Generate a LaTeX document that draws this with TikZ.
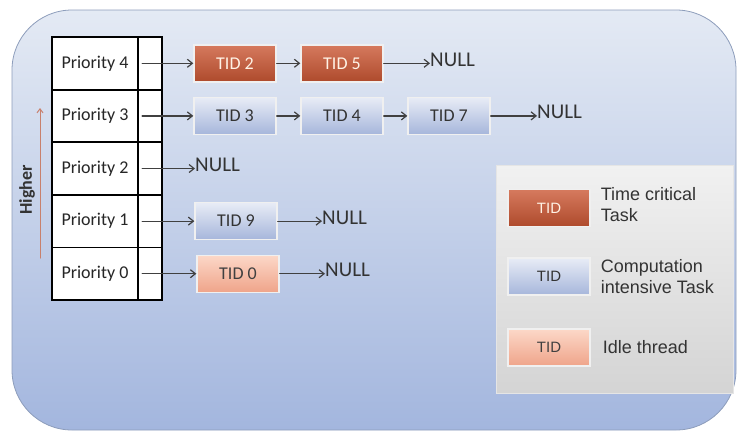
\documentclass[tikz,border=0pt]{standalone}
\usepackage{fontspec}
\setmainfont{Carlito}
\newfontfamily\arialfont{Liberation Sans}
\usetikzlibrary{positioning,arrows.meta}

\definecolor{bgTop}{HTML}{E4EAF4}
\definecolor{bgBot}{HTML}{A3B6DE}
\definecolor{bgLine}{HTML}{8D9DBB}
\definecolor{critTop}{HTML}{D67A5E}
\definecolor{critBot}{HTML}{AE4A2C}
\definecolor{compTop}{HTML}{E8ECF6}
\definecolor{compBot}{HTML}{A6B6DB}
\definecolor{idleTop}{HTML}{FCD8C8}
\definecolor{idleBot}{HTML}{EFA48A}
\definecolor{legTop}{HTML}{F1F1F1}
\definecolor{legBot}{HTML}{D4D4D4}
\definecolor{higherRed}{HTML}{C8806C}

\begin{document}
\begin{tikzpicture}[x=1pt, y=-1pt, line cap=round,
	cell/.style={draw=black, line width=1.8pt, fill=white, minimum height=52.6pt, inner sep=0pt, text=black!85, font=\fontsize{18}{20}\selectfont},
	tidbox/.style={draw=white!88!gray, line width=1.4pt, minimum width=82pt, minimum height=37pt, inner sep=0pt, font=\fontsize{18}{20}\selectfont},
	crit/.style={tidbox, top color=critTop, bottom color=critBot, text=white!90!orange},
	comp/.style={tidbox, top color=compTop, bottom color=compBot, text=black!80},
	idle/.style={tidbox, top color=idleTop, bottom color=idleBot, text=black!75},
	nulltext/.style={inner sep=0pt, anchor=base west, text=black!80, font=\fontsize{21}{24}\selectfont},
	legtext/.style={inner sep=0pt, align=left, text=black!80, font=\arialfont\fontsize{18}{21}\selectfont},
	link/.style={-{Straight Barb[length=5pt, width=8pt]}, line width=1.2pt, draw=black!75},
	]
	\useasboundingbox (0,0) rectangle (738,432);
	
	% Background
	\draw[bgLine, line width=0.8pt, rounded corners=60pt, top color=bgTop, bottom color=bgBot] (12,10) rectangle (736,430);
	
	% Priority table
	\node[cell, minimum width=86pt] (p4) at (95,63.3) {Priority 4};
	\node[cell, minimum width=24pt] (p4c) at (150,63.3) {};
	\node[cell, minimum width=86pt] (p3) at (95,115.9) {Priority 3};
	\node[cell, minimum width=24pt] (p3c) at (150,115.9) {};
	\node[cell, minimum width=86pt] (p2) at (95,168.5) {Priority 2};
	\node[cell, minimum width=24pt] (p2c) at (150,168.5) {};
	\node[cell, minimum width=86pt] (p1) at (95,221.1) {Priority 1};
	\node[cell, minimum width=24pt] (p1c) at (150,221.1) {};
	\node[cell, minimum width=86pt] (p0) at (95,273.7) {Priority 0};
	\node[cell, minimum width=24pt] (p0c) at (150,273.7) {};
	
	% Tasks
	\node[crit] (t2) at (235,63.3) {TID 2};
	\node[crit] (t5) at (342,63.3) {TID 5};
	\node[comp] (t3) at (235,115.9) {TID 3};
	\node[comp] (t4) at (342,115.9) {TID 4};
	\node[comp] (t7) at (449,115.9) {TID 7};
	\node[comp] (t9) at (236,221.1) {TID 9};
	\node[idle] (t0) at (238,273.7) {TID 0};
	
	% NULL ends
	\node[nulltext] (n4) at (430,66.3) {NULL};
	\node[nulltext] (n3) at (537,118.9) {NULL};
	\node[nulltext] (n2) at (195,171.5) {NULL};
	\node[nulltext] (n1) at (322,224.1) {NULL};
	\node[nulltext] (n0) at (325,276.7) {NULL};
	
	% Arrows
	\draw[link] ([xshift=5pt]p4c.west) -- (t2.west);
	\draw[link] (t2.east) -- (t5.west);
	\draw[link] (t5.east) -- (t5.east -| n4.west);
	\draw[link] ([xshift=5pt]p3c.west) -- (t3.west);
	\draw[link] (t3.east) -- (t4.west);
	\draw[link] (t4.east) -- (t7.west);
	\draw[link] (t7.east) -- (t7.east -| n3.west);
	\draw[link] ([xshift=5pt]p2c.west) -- (p2c.center -| n2.west);
	\draw[link] ([xshift=5pt]p1c.west) -- (t9.west);
	\draw[link] (t9.east) -- (t9.east -| n1.west);
	\draw[link] ([xshift=5pt]p0c.west) -- (t0.west);
	\draw[link] (t0.east) -- (t0.east -| n0.west);
	
	% Higher
	\coordinate (hlow) at (40,258);
	\coordinate (hhigh) at (40,108);
	\draw[-{Straight Barb[length=4pt, width=6pt]}, higherRed, line width=1pt] (hlow) -- (hhigh);
	\node[rotate=90, text=black!80, font=\bfseries\fontsize{18}{20}\selectfont] (higher) at (27,190) {Higher};
	
	% Legend
	\draw[white!80!gray, line width=0.6pt, top color=legTop, bottom color=legBot] (496,165) rectangle (733,393);
	\node[crit, font=\arialfont\fontsize{15}{17}\selectfont] (lcrit) at (549,208) {TID};
	\node[comp, font=\arialfont\fontsize{15}{17}\selectfont] (lcomp) at (549,276.5) {TID};
	\node[idle, font=\arialfont\fontsize{15}{17}\selectfont] (lidle) at (549,347.5) {TID};
	\node[legtext, right=10pt of lcrit, yshift=3pt] (tcrit) {Time critical\\Task};
	\node[legtext, right=10pt of lcomp] (tcomp) {Computation\\intensive Task};
	\node[legtext, right=12pt of lidle] (tidle) {Idle thread};
\end{tikzpicture}
\end{document}
